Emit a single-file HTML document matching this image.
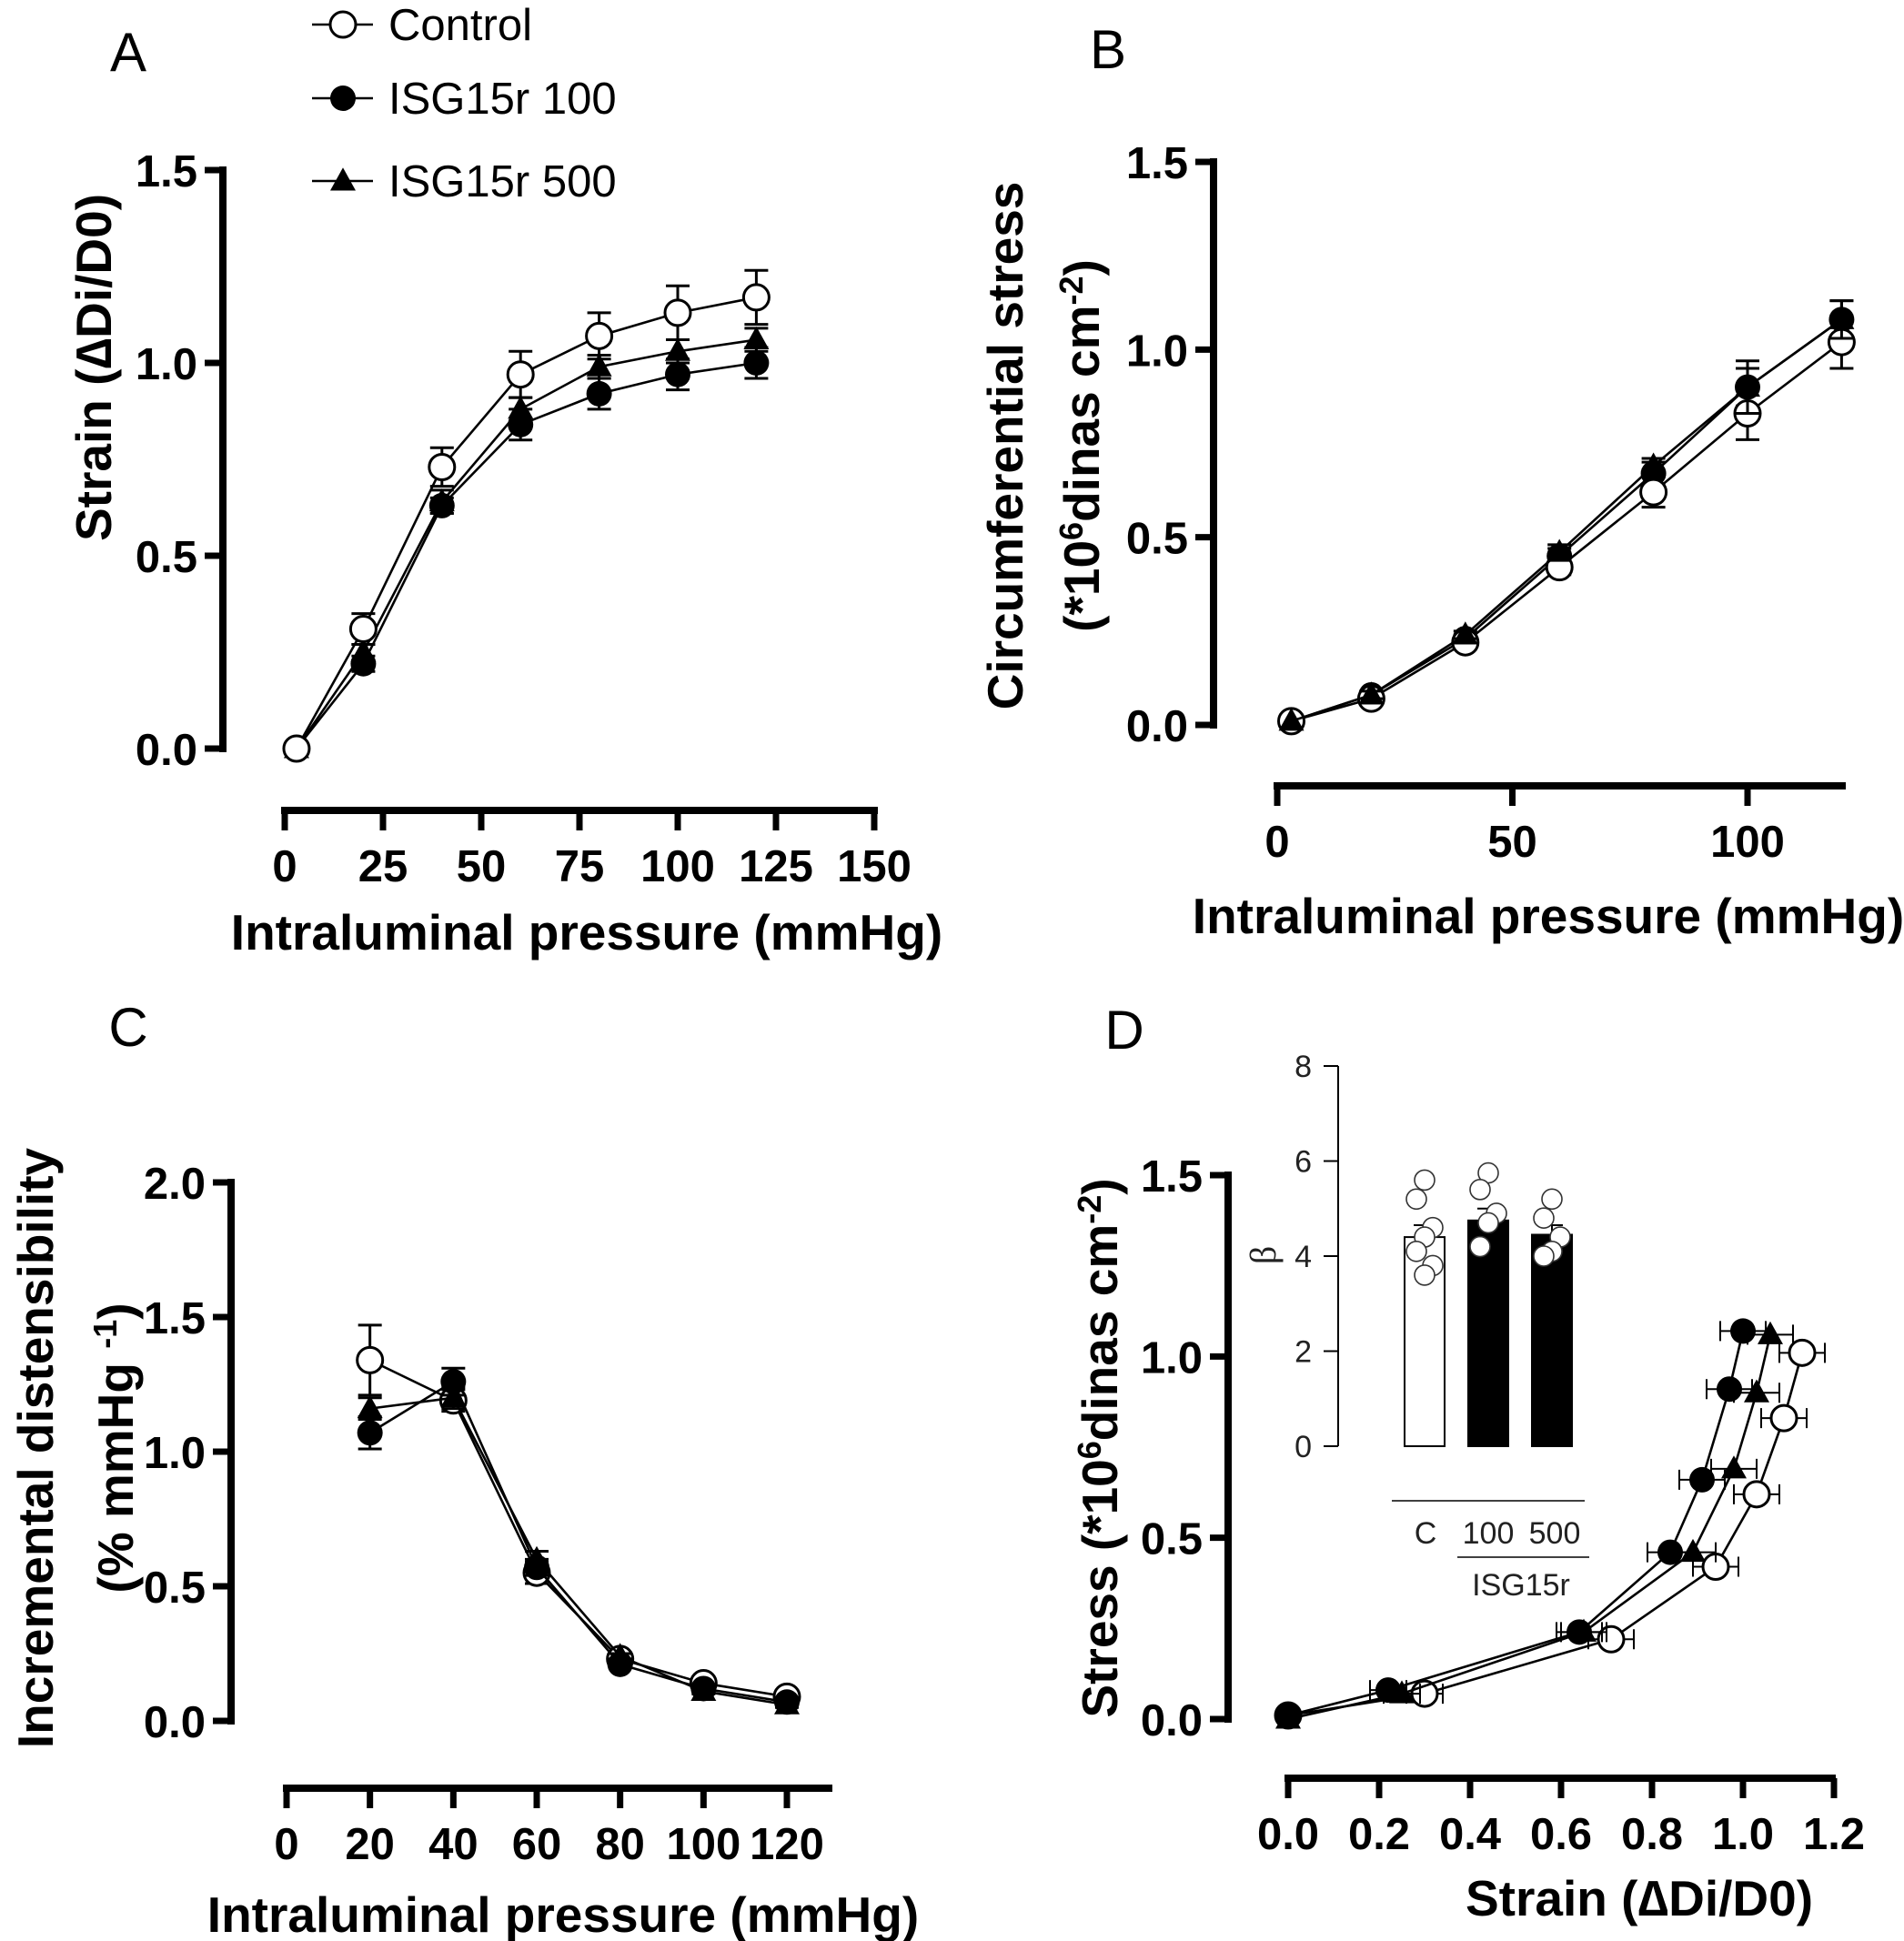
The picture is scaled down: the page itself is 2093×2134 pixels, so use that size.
<!DOCTYPE html>
<html><head><meta charset="utf-8"><style>
html,body{margin:0;padding:0;background:#fff;}
svg{display:block;font-family:"Liberation Sans",Arial,sans-serif;}
.tk{font-weight:bold;font-size:49px;}
.ax{font-weight:bold;font-size:55px;}
.let{font-size:60px;}
.leg{font-size:49px;}
.ins{font-size:34px;fill:#222;}
</style></head><body>
<svg id="fig" width="2093" height="2134" viewBox="0 0 2093 2134"></svg>
<script>
// ---------- data ----------
const pressures = [3, 20, 40, 60, 80, 100, 120];
const strainControl = [0, 0.31, 0.73, 0.97, 1.07, 1.13, 1.17];
const strainErrControl = [0, 0.04, 0.05, 0.06, 0.06, 0.07, 0.07];
const strain100 = [0, 0.22, 0.63, 0.84, 0.92, 0.97, 1.00];
const strainErr100 = [0, 0.02, 0.02, 0.04, 0.04, 0.04, 0.04];
const strain500 = [0, 0.25, 0.64, 0.88, 0.99, 1.03, 1.06];
const strainErr500 = [0, 0.02, 0.03, 0.03, 0.03, 0.03, 0.03];

const stressControl = [0.01, 0.07, 0.22, 0.42, 0.62, 0.83, 1.02];
const stressErrControl = [0, 0.01, 0.01, 0.02, 0.04, 0.07, 0.07];
const stress100 = [0.01, 0.08, 0.23, 0.45, 0.67, 0.90, 1.08];
const stressErr100 = [0, 0.01, 0.01, 0.02, 0.03, 0.05, 0.05];
const stress500 = [0.01, 0.08, 0.24, 0.46, 0.69, 0.90, 1.08];
const stressErr500 = [0, 0.01, 0.01, 0.02, 0.02, 0.07, 0.05];

const distPressures = [20, 40, 60, 80, 100, 120];
const distControl = [1.34, 1.19, 0.55, 0.23, 0.14, 0.09];
const distErrControl = [0.13, 0.04, 0.04, 0.02, 0.01, 0.01];
const dist100 = [1.07, 1.26, 0.57, 0.21, 0.12, 0.07];
const distErr100 = [0.06, 0.05, 0.03, 0.01, 0.01, 0.01];
const dist500 = [1.16, 1.20, 0.60, 0.24, 0.11, 0.06];
const distErr500 = [0.04, 0.04, 0.03, 0.01, 0.01, 0.01];

const dStrainControl = [0, 0.30, 0.71, 0.94, 1.03, 1.09, 1.13];
const dStressControl = [0.01, 0.07, 0.22, 0.42, 0.62, 0.83, 1.01];
const dStrain100 = [0, 0.22, 0.64, 0.84, 0.91, 0.97, 1.00];
const dStress100 = [0.01, 0.08, 0.24, 0.46, 0.66, 0.91, 1.07];
const dStrain500 = [0, 0.25, 0.65, 0.89, 0.98, 1.03, 1.06];
const dStress500 = [0, 0.07, 0.24, 0.46, 0.69, 0.90, 1.06];
const dXErr = [0, 0.04, 0.05, 0.05, 0.05, 0.05, 0.05];

const betaGroups = ["C", "100", "500"];
const betaMeans = [4.4, 4.75, 4.45];
const betaErr = [0.25, 0.25, 0.2];
const betaDotsC = [5.6, 5.2, 4.6, 4.4, 4.1, 3.8, 3.6];
const betaDots100 = [5.75, 5.4, 4.9, 4.7, 4.2];
const betaDots500 = [5.2, 4.8, 4.4, 4.1, 4.0];

const ticksA_x = [0, 25, 50, 75, 100, 125, 150];
const ticksA_y = [0, 0.5, 1.0, 1.5];
const ticksB_x = [0, 50, 100];
const ticksC_x = [0, 20, 40, 60, 80, 100, 120];
const ticksC_y = [0, 0.5, 1.0, 1.5, 2.0];
const ticksD_x = [0, 0.2, 0.4, 0.6, 0.8, 1.0, 1.2];
const ticksInset = [0, 2, 4, 6, 8];

// ---------- helpers ----------
const NS = "http://www.w3.org/2000/svg";
const svg = document.getElementById("fig");
function mk(tag, attrs, parent) {
  const e = document.createElementNS(NS, tag);
  for (const k in attrs) e.setAttribute(k, attrs[k]);
  (parent || svg).appendChild(e);
  return e;
}
function lin(d0, d1, r0, r1) { return v => r0 + (v - d0) * (r1 - r0) / (d1 - d0); }
function txt(s, x, y, cls, anchor, parent) {
  const t = mk("text", {x: x, y: y, class: cls, "text-anchor": anchor || "middle"}, parent);
  t.textContent = s; return t;
}
function fmt(v) { return v.toFixed(1); }

function marker(g, type, x, y, r) {
  let m;
  if (type === "open") m = mk("circle", {cx: x, cy: y, r: r, fill: "#fff", stroke: "#000", "stroke-width": 3}, g);
  else if (type === "filled") m = mk("circle", {cx: x, cy: y, r: r, fill: "#000"}, g);
  else m = mk("polygon", {points: `${x},${y - r * 1.05} ${x - r},${y + r * 0.75} ${x + r},${y + r * 0.75}`, fill: "#000"}, g);
  
  
  return m;
}

function series(g, xs, ys, type, sx, sy, yerr, xerr, name) {
  const s = mk("g", {}, g);
  
  
  const pts = xs.map((v, i) => sx(v) + "," + sy(ys[i])).join(" ");
  mk("polyline", {points: pts, fill: "none", stroke: "#000", "stroke-width": 2.6}, s);
  xs.forEach((v, i) => {
    const X = sx(v), Y = sy(ys[i]);
    if (yerr && yerr[i] > 0) {
      const up = sy(ys[i] + yerr[i]), dn = sy(ys[i] - yerr[i]);
      mk("path", {d: `M${X},${up}V${dn}M${X - 13},${up}H${X + 13}M${X - 13},${dn}H${X + 13}`, stroke: "#000", "stroke-width": 3, fill: "none"}, s);
    }
    if (xerr && xerr[i] > 0) {
      const l = sx(v - xerr[i]), r = sx(v + xerr[i]);
      mk("path", {d: `M${l},${Y}H${r}M${l},${Y - 11}V${Y + 11}M${r},${Y - 11}V${Y + 11}`, stroke: "#000", "stroke-width": 2, fill: "none"}, s);
    }
  });
  xs.forEach((v, i) => marker(s, type, sx(v), sy(ys[i]), 14));
}

function axes(g, o) {
  const ya = mk("g", {}, g);
  
  
  mk("line", {x1: o.yx, x2: o.yx, y1: o.sy(o.yt[o.yt.length - 1]) - 4, y2: o.sy(o.yt[0]) + 4, stroke: "#000", "stroke-width": 8}, ya);
  o.yt.forEach(v => {
    mk("line", {x1: o.yx - 20, x2: o.yx, y1: o.sy(v), y2: o.sy(v), stroke: "#000", "stroke-width": 7}, ya);
    txt(fmt(v), o.yx - 28, o.sy(v) + 18, "tk", "end", ya);
  });
  const xa = mk("g", {}, g);
  
  
  mk("line", {x1: o.sx(o.xt[0]) - 4, x2: o.xend, y1: o.xy, y2: o.xy, stroke: "#000", "stroke-width": 8}, xa);
  o.xt.forEach(v => {
    mk("line", {x1: o.sx(v), x2: o.sx(v), y1: o.xy, y2: o.xy + 22, stroke: "#000", "stroke-width": 7}, xa);
    txt(o.xfmt ? o.xfmt(v) : String(v), o.sx(v), o.xy + 78, "tk", "middle", xa);
  });
}

// ---------- Panel A ----------
{
  const g = mk("g", {});  
  const sx = lin(0, 150, 313, 961), sy = lin(0, 1.5, 823, 187);
  axes(g, {sx, sy, yx: 245, xy: 891, xend: 965, yt: ticksA_y, xt: ticksA_x});
  const l = txt("A", 141, 78, "let", "middle", g);  
  const yl = txt("Strain (\u2206Di/D0)", 0, 0, "ax", "middle", g);
  yl.setAttribute("transform", "translate(122,404) rotate(-90)");
   
  const xl = txt("Intraluminal pressure (mmHg)", 645, 1044, "ax", "middle", g);
   
  series(g, pressures, strain100, "filled", sx, sy, strainErr100, null, "series-isg15r-100");
  series(g, pressures, strain500, "tri", sx, sy, strainErr500, null, "series-isg15r-500");
  series(g, pressures, strainControl, "open", sx, sy, strainErrControl, null, "series-control");
  const lg = mk("g", {}, g);  
  [["Control", "open", 27], ["ISG15r 100", "filled", 108], ["ISG15r 500", "tri", 199]].forEach(([n, t, y]) => {
    const e = mk("g", {}, lg);  
    mk("line", {x1: 343, x2: 410, y1: y, y2: y, stroke: "#000", "stroke-width": 2.6}, e);
    marker(e, t, 377, y, 14);
    txt(n, 427, y + 17, "leg", "start", e);
  });
}

// ---------- Panel B ----------
{
  const g = mk("g", {});  
  const sx = lin(0, 100, 1404, 1921), sy = lin(0, 1.5, 797, 178);
  axes(g, {sx, sy, yx: 1334, xy: 864, xend: 2029, yt: ticksA_y, xt: ticksB_x});
  const l = txt("B", 1218, 75, "let", "middle", g);  
  const yl = txt("Circumferential stress", 0, 0, "ax", "middle", g);
  yl.setAttribute("transform", "translate(1124,490) rotate(-90)");
   
  const yl2 = mk("text", {class: "ax", "text-anchor": "middle", transform: "translate(1208,490) rotate(-90)"}, g);
  yl2.innerHTML = '(*10<tspan dy="-18" font-size="36">6</tspan><tspan dy="18">dinas cm</tspan><tspan dy="-18" font-size="36">-2</tspan><tspan dy="18">)</tspan>';
   
  const xl = txt("Intraluminal pressure (mmHg)", 1702, 1026, "ax", "middle", g);
   
  series(g, pressures, stress100, "filled", sx, sy, stressErr100, null, "series-isg15r-100");
  series(g, pressures, stressControl, "open", sx, sy, stressErrControl, null, "series-control");
  series(g, pressures, stress500, "tri", sx, sy, stressErr500, null, "series-isg15r-500");
}

// ---------- Panel C ----------
{
  const g = mk("g", {});  
  const sx = lin(0, 120, 315, 865), sy = lin(0, 2.0, 1892, 1300);
  axes(g, {sx, sy, yx: 254, xy: 1966, xend: 915, yt: ticksC_y, xt: ticksC_x});
  const l = txt("C", 141, 1150, "let", "middle", g);  
  const yl = txt("Incremental distensibility", 0, 0, "ax", "middle", g);
  yl.setAttribute("transform", "translate(58,1592) rotate(-90)");
   
  const yl2 = mk("text", {class: "ax", "text-anchor": "middle", transform: "translate(146,1592) rotate(-90)"}, g);
  yl2.innerHTML = '(% mmHg <tspan dy="-18" font-size="36">-1</tspan><tspan dy="18">)</tspan>';
   
  const xl = txt("Intraluminal pressure (mmHg)", 619, 2124, "ax", "middle", g);
   
  series(g, distPressures, distControl, "open", sx, sy, distErrControl, null, "series-control");
  series(g, distPressures, dist500, "tri", sx, sy, distErr500, null, "series-isg15r-500");
  series(g, distPressures, dist100, "filled", sx, sy, distErr100, null, "series-isg15r-100");
}

// ---------- Panel D ----------
{
  const g = mk("g", {});  
  const sx = lin(0, 1.2, 1416, 2016), sy = lin(0, 1.5, 1890, 1292);
  axes(g, {sx, sy, yx: 1350, xy: 1955, xend: 2018, yt: ticksA_y, xt: ticksD_x, xfmt: v => v.toFixed(1)});
  const l = txt("D", 1236, 1153, "let", "middle", g);  
  const yl = mk("text", {class: "ax", "text-anchor": "middle", transform: "translate(1228,1592) rotate(-90)"}, g);
  yl.innerHTML = 'Stress (*10<tspan dy="-18" font-size="36">6</tspan><tspan dy="18">dinas cm</tspan><tspan dy="-18" font-size="36">-2</tspan><tspan dy="18">)</tspan>';
   
  const xl = txt("Strain (\u2206Di/D0)", 1802, 2106, "ax", "middle", g);
   
  series(g, dStrainControl, dStressControl, "open", sx, sy, null, dXErr, "series-control");
  series(g, dStrain500, dStress500, "tri", sx, sy, null, dXErr, "series-isg15r-500");
  series(g, dStrain100, dStress100, "filled", sx, sy, null, dXErr, "series-isg15r-100");

  const ig = mk("g", {}, g);  
  const iy = lin(0, 8, 1590, 1172);
  const barX = [1566, 1636, 1706];
  const ax = mk("g", {}, ig);  
  mk("line", {x1: 1471, x2: 1471, y1: iy(8), y2: iy(0), stroke: "#000", "stroke-width": 2}, ax);
  ticksInset.forEach(v => {
    mk("line", {x1: 1455, x2: 1471, y1: iy(v), y2: iy(v), stroke: "#000", "stroke-width": 2}, ax);
    txt(String(v), 1442, iy(v) + 12, "ins", "end", ax);
  });
  const bt = txt("\u03b2", 0, 0, "ins", "middle", ax);
  bt.setAttribute("transform", "translate(1402,1380) rotate(-90)");
  bt.setAttribute("style", "font-family:'Liberation Serif',serif;font-size:40px");
  const dots = [betaDotsC, betaDots100, betaDots500];
  betaGroups.forEach((gname, i) => {
    const b = mk("g", {}, ig);  
    const cx = barX[i];
    mk("rect", {x: cx - 22, y: iy(betaMeans[i]), width: 44, height: iy(0) - iy(betaMeans[i]), fill: i === 0 ? "#fff" : "#000", stroke: "#000", "stroke-width": 2}, b);
    mk("path", {d: `M${cx},${iy(betaMeans[i])}V${iy(betaMeans[i] + betaErr[i])}M${cx - 12},${iy(betaMeans[i] + betaErr[i])}H${cx + 12}`, stroke: "#000", "stroke-width": 2}, b);
    dots[i].forEach((v, j) => {
      const off = (j % 3 === 0) ? 0 : (j % 3 === 1 ? -9 : 9);
      const c = mk("circle", {cx: cx + off, cy: iy(v), r: 11, fill: "#fff", stroke: "#333", "stroke-width": 1.6}, b);
       
    });
  });
  const lab = mk("g", {}, ig);  
  mk("line", {x1: 1530, x2: 1742, y1: 1650, y2: 1650, stroke: "#000", "stroke-width": 1.6}, lab);
  txt("C", 1567, 1697, "ins", "middle", lab);
  txt("100", 1636, 1697, "ins", "middle", lab);
  txt("500", 1709, 1697, "ins", "middle", lab);
  mk("line", {x1: 1602, x2: 1747, y1: 1712, y2: 1712, stroke: "#000", "stroke-width": 1.6}, lab);
  txt("ISG15r", 1672, 1754, "ins", "middle", lab);
}
</script>
</body></html>
